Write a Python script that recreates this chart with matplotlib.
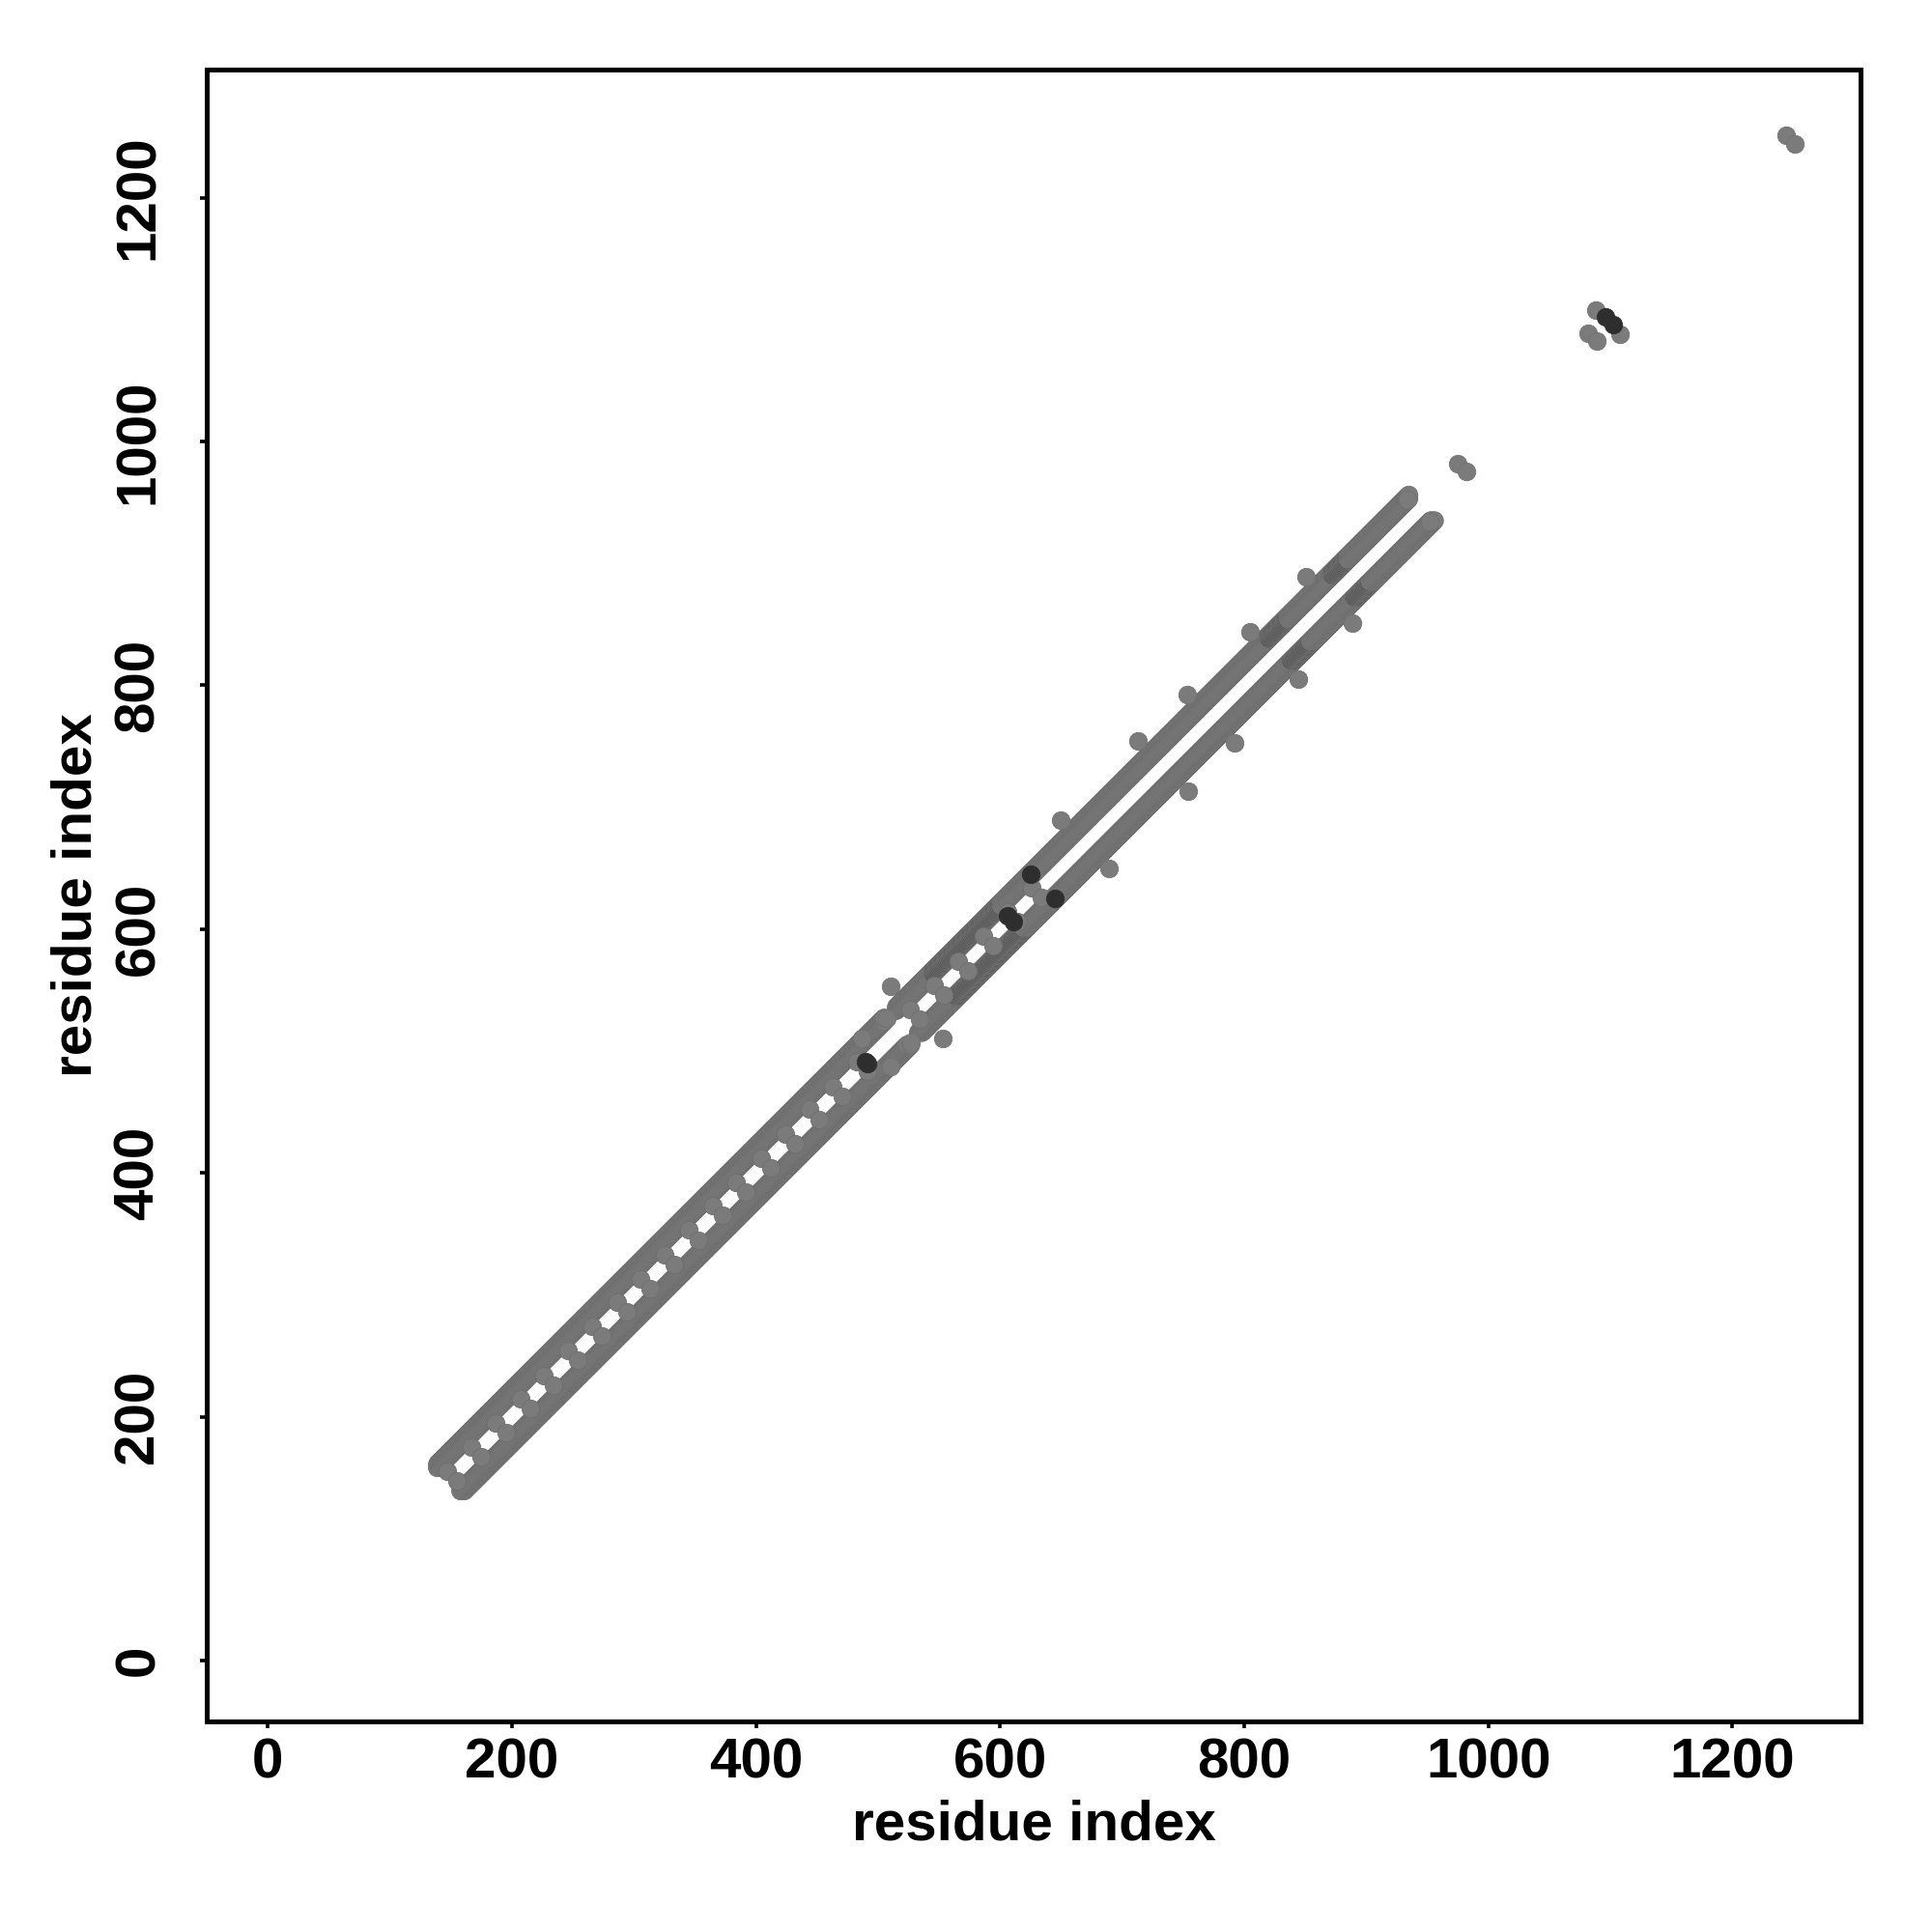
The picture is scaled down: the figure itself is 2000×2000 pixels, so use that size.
import numpy as np
import matplotlib.pyplot as plt

# contact map, upper triangle (i < j); every contact is drawn twice (i,j) and (j,i)
# ladder segments: residues seg_start..seg_end contact j = i + off_lo .. i + off_hi
seg_start = [139, 515]
seg_end = [505, 935]
seg_off_lo = [19, 18]
seg_off_hi = [22, 21]

# short-range "rungs" bridging the two rails (diagonal position of each rung)
rung_centres = [151, 171, 191, 211, 230, 250, 270, 290, 309, 329, 349, 369, 388,
                408, 428, 448, 467, 487, 530, 550, 570, 590, 610, 630]

# isolated contacts
extra_i = [487, 507, 510, 650, 713, 753, 805, 851, 934, 975, 1082, 1088, 1244]
extra_j = [510, 527, 553, 689, 754, 792, 844, 889, 952, 982, 1089, 1108, 1251]

# darker stretches of the rails (residue ranges)
shade_start = [545, 820, 872]
shade_end = [600, 835, 884]

# near-black contacts
dark_i = [490, 606, 625, 1096]
dark_j = [491, 611, 645, 1102]

grey = '#7b7b7b'
mid = '#545454'
dark = '#2e2e2e'

ci, cj, cc = [], [], []
for s, e, lo, hi in zip(seg_start, seg_end, seg_off_lo, seg_off_hi):
    for i in range(s, e + 1):
        shaded = any(a <= i <= b for a, b in zip(shade_start, shade_end))
        for o in range(lo, hi + 1, 3):
            ci.append(i)
            cj.append(i + o)
            cc.append(mid if shaded else grey)
ri, rj = [], []
for c in rung_centres:
    ri.append(c - 4)
    rj.append(c + 4)

fig = plt.figure(figsize=(10, 10), dpi=200)
ax = fig.add_axes([0.107, 0.109, 0.856, 0.855])

kw = dict(s=44, marker='o', linewidths=0.3)
ax.scatter(ci + cj, cj + ci, c=cc + cc, edgecolors='#6e6e6e', **kw)
ax.scatter(ri + rj, rj + ri, c=grey, edgecolors='#6e6e6e', **kw)
ax.scatter(extra_i + extra_j, extra_j + extra_i, c=grey, edgecolors='#727272', **kw)
ax.scatter(dark_i + dark_j, dark_j + dark_i, c=dark, edgecolors=dark, **kw)

ax.set_xlim(-50, 1305)
ax.set_ylim(-50, 1305)
ticks = [0, 200, 400, 600, 800, 1000, 1200]
ax.set_xticks(ticks)
ax.set_yticks(ticks)

font = dict(family='Liberation Sans', weight='bold', size=21)
ax.set_xticklabels([str(t) for t in ticks], fontdict=font)
ax.set_yticklabels([str(t) for t in ticks], fontdict=font, rotation=90, va='center')
ax.tick_params(axis='both', length=2.5, width=1.3, color='black')
ax.tick_params(axis='x', pad=3.5)
ax.tick_params(axis='y', pad=13)
for sp in ax.spines.values():
    sp.set_linewidth(1.8)

ax.set_xlabel('residue index', fontdict=font)
ax.set_ylabel('residue index', fontdict=font)
ax.xaxis.set_label_coords(0.5, -0.063)
ax.xaxis.label.set_va('center')
ax.yaxis.set_label_coords((80 - 214) / 1712, 0.5)
ax.yaxis.label.set_va('center')

fig.savefig('out.png', dpi=200, facecolor='white')
